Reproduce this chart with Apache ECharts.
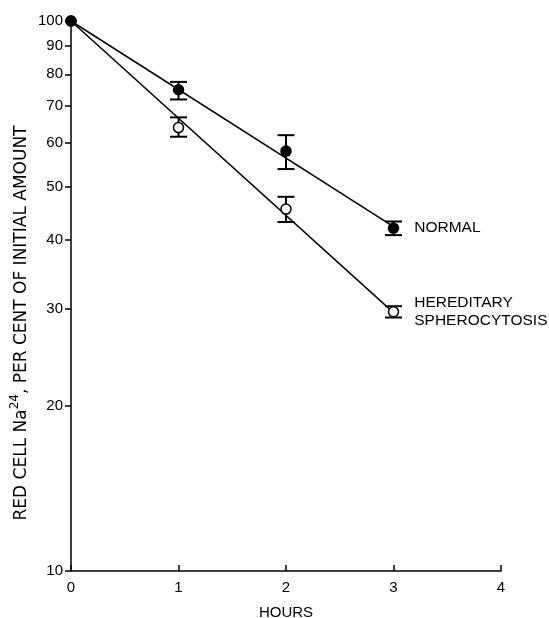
<!DOCTYPE html>
<html><head><meta charset="utf-8">
<script src="https://cdn.jsdelivr.net/npm/echarts@6.0.0/dist/echarts.min.js"></script>
<style>html,body{margin:0;padding:0;background:#fff}#c{width:549px;height:618px}</style>
</head><body><div id="c"></div>
<script>
const hours = [0, 1, 2, 3];
const normalMean = [100, 75, 58, 42];
const normalHigh = [null, 77.5, 62, 43.2];
const normalLow = [null, 72, 53.8, 40.8];
const hsMean = [100, 64, 45.5, 29.6];
const hsHigh = [null, 66.8, 47.9, 30.3];
const hsLow = [null, 61.6, 43.1, 28.9];
const fitHours = [0, 3];
const normalFit = [100, 42.3];
const hsFit = [100, 29.5];
const yTicks = [10, 20, 30, 40, 50, 60, 70, 80, 90, 100];
const xTicks = [0, 1, 2, 3, 4];
const normalName = 'NORMAL';
const hsName = 'HEREDITARY\nSPHEROCYTOSIS';
const yName = 'RED CELL Na{sup|24}, PER CENT OF INITIAL AMOUNT';
const xName = 'HOURS';

const FONT = '"Liberation Sans", Arial, sans-serif';
const NAMEFONT = '"DejaVu Sans", sans-serif';
const chart = echarts.init(document.getElementById('c'), null, {renderer: 'canvas'});

function pairs(xs, ys) { return xs.map((x, i) => [x, ys[i]]); }
function errData(xs, lo, hi) {
  const out = [];
  xs.forEach((x, i) => { if (lo[i] != null) out.push([x, lo[i], hi[i]]); });
  return out;
}
function errRender(params, api) {
  const x = api.value(0);
  const lo = api.coord([x, api.value(1)]);
  const hi = api.coord([x, api.value(2)]);
  const w = 8.5;
  const st = {stroke: '#000', lineWidth: 2};
  return {type: 'group', children: [
    {type: 'line', shape: {x1: lo[0], y1: lo[1], x2: hi[0], y2: hi[1]}, style: st},
    {type: 'line', shape: {x1: lo[0] - w, y1: lo[1], x2: lo[0] + w, y2: lo[1]}, style: st},
    {type: 'line', shape: {x1: hi[0] - w, y1: hi[1], x2: hi[0] + w, y2: hi[1]}, style: st}
  ]};
}
function labeled(xs, ys, text, extra) {
  return xs.map((x, i) => i === xs.length - 1
    ? {value: [x, ys[i]], label: Object.assign({show: true, position: 'right', distance: 15,
        formatter: text, color: '#000', fontFamily: FONT, fontSize: 15.5, align: 'left'}, extra || {})}
    : [x, ys[i]]);
}

const option = {
  animation: false,
  backgroundColor: '#fff',
  grid: {left: 71, right: 48, top: 21, bottom: 47, outerBoundsMode: 'none', containLabel: false},
  xAxis: {
    type: 'value', min: 0, max: 4, interval: 1,
    axisLine: {show: true, lineStyle: {color: '#000', width: 1.5}},
    axisTick: {show: true, inside: true, length: 6, lineStyle: {color: '#000', width: 1.5}, customValues: xTicks},
    axisLabel: {color: '#000', fontFamily: FONT, fontSize: 15, margin: 9, customValues: xTicks},
    splitLine: {show: false},
    name: xName, nameLocation: 'middle', nameGap: 34, nameMoveOverlap: false,
    nameTextStyle: {color: '#000', fontFamily: FONT, fontSize: 15}
  },
  yAxis: {
    type: 'log', logBase: 10, min: 10, max: 100,
    axisLine: {show: true, lineStyle: {color: '#000', width: 1.5}},
    axisTick: {show: true, inside: false, length: 6, lineStyle: {color: '#000', width: 1.5}, customValues: yTicks},
    axisLabel: {color: '#000', fontFamily: FONT, fontSize: 15, margin: 8, customValues: yTicks},
    splitLine: {show: false},
    name: yName, nameLocation: 'middle', nameGap: 36, nameRotate: 90, nameMoveOverlap: false,
    nameTextStyle: {color: '#000', fontFamily: NAMEFONT, fontSize: 17, lineHeight: 26, padding: [0, 54, 0, 0],
      rich: {sup: {fontFamily: NAMEFONT, fontSize: 12, lineHeight: 26, verticalAlign: 'top', color: '#000'}}}
  },
  series: [
    {type: 'line', data: pairs(fitHours, normalFit), symbol: 'none', lineStyle: {color: '#000', width: 1.5}, z: 2},
    {type: 'line', data: pairs(fitHours, hsFit), symbol: 'none', lineStyle: {color: '#000', width: 1.5}, z: 2},
    {type: 'custom', renderItem: errRender, data: errData(hours, normalLow, normalHigh), z: 3},
    {type: 'custom', renderItem: errRender, data: errData(hours, hsLow, hsHigh), z: 3},
    {type: 'scatter', data: labeled(hours, hsMean, hsName, {lineHeight: 18}), symbol: 'circle', symbolSize: 10,
      itemStyle: {color: '#fff', borderColor: '#000', borderWidth: 1.5, opacity: 1}, z: 4},
    {type: 'scatter', data: labeled(hours, normalMean, normalName), symbol: 'circle', symbolSize: 11.5,
      itemStyle: {color: '#000', opacity: 1}, z: 5}
  ]
};
chart.setOption(option);
</script>
</body></html>
